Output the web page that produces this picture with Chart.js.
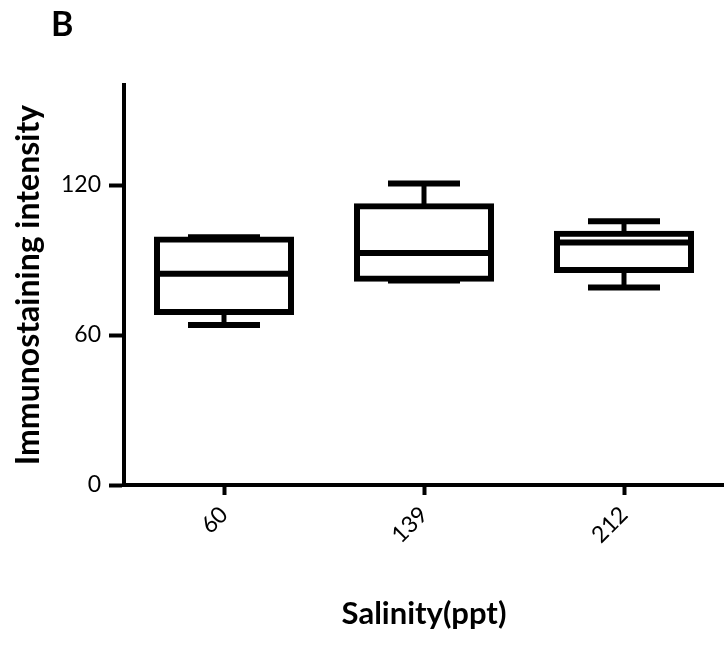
<!DOCTYPE html>
<html>
<head>
<meta charset="utf-8">
<script src="https://cdn.jsdelivr.net/npm/chart.js@4.4.1/dist/chart.umd.min.js"></script>
<style>
  body { margin: 0; background: #fff; }
  #wrap { position: relative; width: 724px; height: 646px; }
  #panel { position: absolute; left: 51px; top: 2px; font: bold 34px Lato, sans-serif; color: #000; }
</style>
</head>
<body>
<div id="wrap">
  <canvas id="boxChart" width="724" height="646"></canvas>
  <div id="panel">B</div>
</div>
<script>
// salinity groups (ppt) and box statistics
const salinity = ['60', '139', '212'];
const whiskerMin = [64, 81.8, 79];
const quartile1 = [69.2, 82.5, 86];
const medians = [84.5, 92.8, 97];
const quartile3 = [98.2, 111.5, 100.5];
const whiskerMax = [99.1, 120.6, 105.5];
const yTicks = [0, 60, 120];

const font = 'Lato';
const black = '#000';

function pairs(a, b) {
    return a.map((v, i) => [v, b[i]]);
}

function bars(data, thickness, inflate, order) {
    return {
        data: data,
        backgroundColor: black,
        borderWidth: 0,
        barThickness: thickness,
        inflateAmount: inflate,
        grouped: false,
        order: order
    };
}

const ctx = document.getElementById('boxChart').getContext('2d');

new Chart(ctx, {
    type: 'bar',
    data: {
        labels: salinity,
        datasets: [
            bars(pairs(medians, medians), 134, 3, 0),
            bars(pairs(whiskerMax, whiskerMax), 66, 3, 1),
            bars(pairs(whiskerMin, whiskerMin), 66, 3, 1),
            {
                // the box itself: Q1 to Q3
                data: pairs(quartile1, quartile3),
                backgroundColor: '#fff',
                borderColor: black,
                borderWidth: 6,
                borderSkipped: false,
                barThickness: 134,
                inflateAmount: 3,
                grouped: false,
                order: 2
            },
            bars(pairs(quartile3, whiskerMax), 5, 0, 3),
            bars(pairs(whiskerMin, quartile1), 5, 0, 3)
        ]
    },
    options: {
        responsive: false,
        animation: false,
        layout: { padding: { top: 85, right: 0, bottom: 0, left: 0 } },
        plugins: {
            legend: { display: false },
            tooltip: { enabled: false }
        },
        scales: {
            x: {
                offset: true,
                grid: { drawOnChartArea: false, offset: false, tickLength: 10, tickWidth: 4, tickColor: black },
                border: { color: black, width: 4 },
                ticks: {
                    color: black,
                    font: { family: font, size: 23 },
                    minRotation: 45,
                    maxRotation: 45,
                    padding: 6
                },
                title: {
                    display: true,
                    text: 'Salinity(ppt)',
                    color: black,
                    font: { family: font, size: 31, weight: 'bold' },
                    padding: { top: 0, bottom: 13 }
                },
                afterFit: function (scale) { scale.height = 161; }
            },
            y: {
                min: 0,
                max: 160,
                afterBuildTicks: function (scale) {
                    scale.ticks = yTicks.map(v => ({ value: v }));
                },
                grid: { drawOnChartArea: false, tickLength: 15, tickWidth: 4, tickColor: black },
                border: { color: black, width: 4 },
                ticks: {
                    color: black,
                    font: { family: font, size: 23 },
                    padding: 8
                },
                title: {
                    display: true,
                    text: 'Immunostaining intensity',
                    color: black,
                    font: { family: font, size: 32, weight: 'bold' },
                    padding: { top: 9, bottom: 0 }
                },
                afterFit: function (scale) { scale.width = 124; }
            }
        }
    }
});
</script>
</body>
</html>
